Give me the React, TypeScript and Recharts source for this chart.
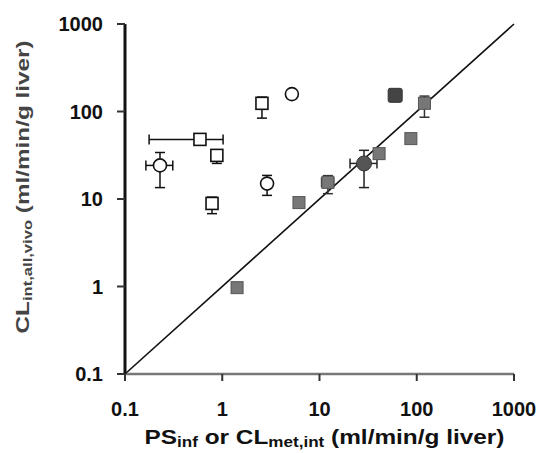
import React from 'react';
import { ScatterChart, Scatter, XAxis, YAxis, ErrorBar, ReferenceLine } from 'recharts';

// open squares
const openSqX = [0.59, 0.88, 0.785, 2.56];
const openSqY = [48, 31.5, 8.9, 124];
const openSqXLow = [0.177, 0.88, 0.785, 2.56];
const openSqXHigh = [1.02, 0.88, 0.785, 2.56];
const openSqYLow = [48, 25.5, 6.8, 84];
const openSqYHigh = [48, 36, 10.5, 146];

// open circles
const openCircX = [0.229, 2.89, 5.2];
const openCircY = [24.2, 15, 158];
const openCircXLow = [0.164, 2.89, 5.2];
const openCircXHigh = [0.31, 2.89, 5.2];
const openCircYLow = [13.5, 11, 148];
const openCircYHigh = [34, 18.6, 168];

// filled squares
const fillSqX = [1.42, 6.15, 12.2, 41, 87, 120];
const fillSqY = [0.97, 9.1, 15.5, 33, 49, 124];
const fillSqXLow = [1.42, 6.15, 10.5, 41, 87, 120];
const fillSqXHigh = [1.42, 6.15, 14, 41, 87, 120];
const fillSqYLow = [0.97, 8, 11.5, 29, 49, 86];
const fillSqYHigh = [0.97, 10, 18.5, 37, 49, 150];

// filled circle
const fillCircX = [28.7];
const fillCircY = [25.5];
const fillCircXLow = [20.6];
const fillCircXHigh = [39];
const fillCircYLow = [13.5];
const fillCircYHigh = [36];

// dark square
const darkSqX = [60];
const darkSqY = [153];

const ticks = [0.1, 1, 10, 100, 1000];

function build(xs: number[], ys: number[], xl?: number[], xh?: number[], yl?: number[], yh?: number[]) {
  return xs.map((x, i) => ({
    x,
    y: ys[i],
    ex: [x - (xl ? xl[i] : x), (xh ? xh[i] : x) - x],
    ey: [ys[i] - (yl ? yl[i] : ys[i]), (yh ? yh[i] : ys[i]) - ys[i]],
  }));
}

const openSquares = build(openSqX, openSqY, openSqXLow, openSqXHigh, openSqYLow, openSqYHigh);
const openCircles = build(openCircX, openCircY, openCircXLow, openCircXHigh, openCircYLow, openCircYHigh);
const filledSquares = build(fillSqX, fillSqY, fillSqXLow, fillSqXHigh, fillSqYLow, fillSqYHigh);
const filledCircles = build(fillCircX, fillCircY, fillCircXLow, fillCircXHigh, fillCircYLow, fillCircYHigh);
const darkSquares = build(darkSqX, darkSqY);

const OpenSquare = (p: any) => (
  <rect x={p.cx - 6} y={p.cy - 6} width={12} height={12} fill="#fff" stroke="#111" strokeWidth={1.6} />
);
const OpenCircle = (p: any) => (
  <circle cx={p.cx} cy={p.cy} r={6.5} fill="#fff" stroke="#111" strokeWidth={1.6} />
);
const FilledSquare = (p: any) => (
  <rect x={p.cx - 6} y={p.cy - 6} width={12} height={12} fill="#777" stroke="#555" strokeWidth={1} />
);
const FilledCircle = (p: any) => (
  <circle cx={p.cx} cy={p.cy} r={7.5} fill="#555" stroke="#333" strokeWidth={1} />
);
const DarkSquare = (p: any) => (
  <rect x={p.cx - 7} y={p.cy - 7} width={14} height={14} rx={2} fill="#444" stroke="#333" strokeWidth={1} />
);

const font = '"Liberation Sans", Arial, sans-serif';

const XTitle = (props: any) => {
  const vb = props.viewBox;
  return (
    <text x={vb.x + vb.width / 2 + 5} y={444} textAnchor="middle" fontFamily={font} fontWeight="bold" fontSize={20} fill="#111"
      textLength={360} lengthAdjust="spacingAndGlyphs">
      PS<tspan fontSize={14} dy={3}>inf</tspan>
      <tspan dy={-3}> or CL</tspan>
      <tspan fontSize={14} dy={3}>met,int</tspan>
      <tspan dy={-3}> (ml/min/g liver)</tspan>
    </text>
  );
};

const YTitle = () => (
  <text x={0} y={0} transform="translate(29,187) rotate(-90)" textAnchor="middle" fontFamily={font} fontWeight="bold"
    fontSize={19} fill="#444" textLength={293} lengthAdjust="spacingAndGlyphs">
    CL<tspan fontSize={13} dy={3}>int,all,vivo</tspan>
    <tspan dy={-3}> (ml/min/g liver)</tspan>
  </text>
);

export default function App() {
  return (
    <div style={{ position: 'absolute', left: 0, top: 0, width: 541, height: 453, background: '#fff' }}>
      <ScatterChart width={541} height={453} margin={{ top: 24, right: 27, bottom: 0, left: 0 }}>
        <XAxis
          type="number"
          dataKey="x"
          scale="log"
          domain={[0.1, 1000]}
          ticks={ticks}
          allowDataOverflow
          height={79}
          axisLine={{ stroke: '#777', strokeWidth: 2.5 }}
          tickLine={{ stroke: '#333', strokeWidth: 2 }}
          tickSize={7}
          tickMargin={21}
          tick={{ fill: '#111', fontSize: 20, fontWeight: 'bold', fontFamily: font }}
          tickFormatter={(v: number) => String(v)}
          label={<XTitle />}
        />
        <YAxis
          type="number"
          dataKey="y"
          scale="log"
          domain={[0.1, 1000]}
          ticks={ticks}
          allowDataOverflow
          width={125}
          axisLine={{ stroke: '#111', strokeWidth: 3 }}
          tickLine={{ stroke: '#333', strokeWidth: 2 }}
          tickSize={8}
          tickMargin={14}
          tick={{ fill: '#111', fontSize: 20, fontWeight: 'bold', fontFamily: font }}
          tickFormatter={(v: number) => String(v)}
          label={<YTitle />}
        />
        <ReferenceLine
          segment={[{ x: 0.1, y: 0.1 }, { x: 1000, y: 1000 }]}
          stroke="#111"
          strokeWidth={1.6}
          ifOverflow="visible"
        />
        <Scatter data={openSquares} shape={OpenSquare} isAnimationActive={false}>
          <ErrorBar dataKey="ex" direction="x" width={5} stroke="#111" strokeWidth={1.5} />
          <ErrorBar dataKey="ey" direction="y" width={5} stroke="#111" strokeWidth={1.5} />
        </Scatter>
        <Scatter data={openCircles} shape={OpenCircle} isAnimationActive={false}>
          <ErrorBar dataKey="ex" direction="x" width={5} stroke="#111" strokeWidth={1.5} />
          <ErrorBar dataKey="ey" direction="y" width={5} stroke="#111" strokeWidth={1.5} />
        </Scatter>
        <Scatter data={filledSquares} shape={FilledSquare} isAnimationActive={false}>
          <ErrorBar dataKey="ex" direction="x" width={5} stroke="#333" strokeWidth={1.5} />
          <ErrorBar dataKey="ey" direction="y" width={5} stroke="#333" strokeWidth={1.5} />
        </Scatter>
        <Scatter data={filledCircles} shape={FilledCircle} isAnimationActive={false}>
          <ErrorBar dataKey="ex" direction="x" width={5} stroke="#222" strokeWidth={1.5} />
          <ErrorBar dataKey="ey" direction="y" width={5} stroke="#222" strokeWidth={1.5} />
        </Scatter>
        <Scatter data={darkSquares} shape={DarkSquare} isAnimationActive={false} />
      </ScatterChart>
    </div>
  );
}
